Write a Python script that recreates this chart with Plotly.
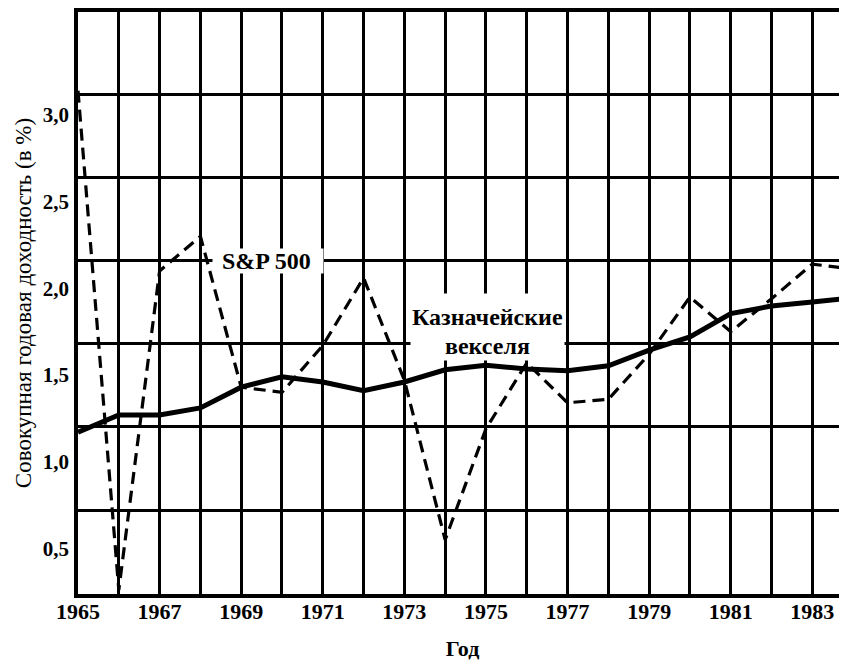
import plotly.graph_objects as go

years = list(range(1965, 1985))
sp500 = [3.14, 0.26, 2.10, 2.30, 1.43, 1.40, 1.67, 2.06, 1.47, 0.55,
         1.19, 1.57, 1.34, 1.36, 1.62, 1.95, 1.75, 1.94, 2.14, 2.11]
tbills = [1.17, 1.27, 1.27, 1.31, 1.43, 1.49, 1.46, 1.41, 1.46, 1.53,
          1.556, 1.535, 1.525, 1.553, 1.644, 1.72, 1.854, 1.898, 1.921, 1.945]

x_tick_years = list(range(1965, 1984, 2))
y_tick_vals = [0.5, 1.0, 1.5, 2.0, 2.5, 3.0]
y_tick_text = ["0,5", "1,0", "1,5", "2,0", "2,5", "3,0"]

SERIF = "Liberation Serif"

fig = go.Figure()
fig.add_trace(go.Scatter(x=years, y=tbills, mode="lines", name="Казначейские векселя",
                         line=dict(color="black", width=5)))
fig.add_trace(go.Scatter(x=years, y=sp500, mode="lines", name="S&P 500",
                         line=dict(color="black", width=3.2, dash="12px,7px")))

# white label boxes (interrupt the grid like in the original)
fig.add_annotation(x=1969.65, y=2.157, text=" ", showarrow=False,
                   bgcolor="white", width=110, height=24, borderpad=0)
fig.add_annotation(x=1969.63, y=2.157, text="<b>S&P 500</b>", showarrow=False,
                   font=dict(family=SERIF, size=24, color="black"))
fig.add_annotation(x=1975.04, y=1.778, text=" ", showarrow=False,
                   bgcolor="white", width=153, height=66, borderpad=0)
fig.add_annotation(x=1975.04, y=1.835, text="<b>Казначейские</b>", showarrow=False,
                   font=dict(family=SERIF, size=24, color="black"))
fig.add_annotation(x=1975.04, y=1.669, text="<b>векселя</b>", showarrow=False,
                   font=dict(family=SERIF, size=24, color="black"))

fig.update_layout(
    width=839, height=658,
    margin=dict(l=70, r=0, t=2, b=72),
    paper_bgcolor="white", plot_bgcolor="white",
    showlegend=False,
    font=dict(family=SERIF, color="black"),
    xaxis=dict(
        range=[1965, 1983.85],
        tickmode="array", tickvals=x_tick_years,
        ticktext=[f"<b>{y}</b>" for y in x_tick_years],
        tickfont=dict(family=SERIF, size=22, color="black"),
        ticks="", ticklabelstandoff=-5,
        showgrid=True, gridcolor="black", gridwidth=2.5,
        minor=dict(tick0=1965, dtick=1, showgrid=True, gridcolor="black", gridwidth=2.5, ticks=""),
        showline=True, linecolor="black", linewidth=3.5, mirror=True,
        zeroline=False,
        title=dict(text="<b>Год</b>", font=dict(family=SERIF, size=22, color="black"), standoff=18),
    ),
    yaxis=dict(
        range=[0.237, 3.594],
        tickmode="array", tickvals=y_tick_vals,
        ticktext=[f"<b>{t}</b>" for t in y_tick_text],
        tickfont=dict(family=SERIF, size=21, color="black"),
        ticks="", ticklabelstandoff=1,
        showgrid=False,
        minor=dict(tick0=0.241, dtick=0.48, showgrid=True, gridcolor="black", gridwidth=2.5, ticks=""),
        showline=True, linecolor="black", linewidth=3.5,
        zeroline=False,
        title=dict(text="Совокупная годовая доходность (в %)",
                   font=dict(family=SERIF, size=23, color="black"), standoff=6),
    ),
)

fig.write_html("out.html")
